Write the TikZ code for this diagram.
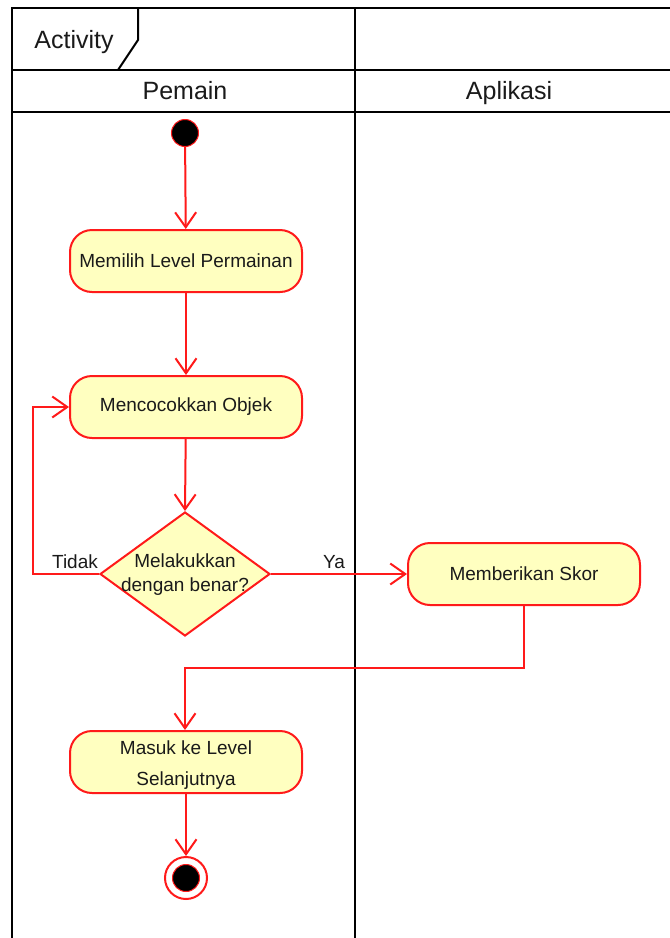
\documentclass[tikz,border=0pt]{standalone}
\usepackage{fontspec}
\setmainfont{Liberation Sans}
\usetikzlibrary{arrows.meta,shapes.geometric}
\definecolor{uired}{HTML}{FF1A1A}
\definecolor{uifill}{HTML}{FFFFC0}
\definecolor{uitext}{HTML}{1A1A1A}
\begin{document}
\begin{tikzpicture}[x=1pt,y=-1pt,
  frame/.style={line width=2pt,black},
  act/.style={draw=uired,fill=uifill,line width=2pt,rounded corners=22pt,minimum width=232pt,minimum height=62pt,text=uitext,font=\fontsize{19}{31}\selectfont,align=center,inner sep=0pt},
  dec/.style={draw=uired,fill=uifill,line width=2pt,diamond,minimum width=170pt,minimum height=124pt,aspect=1.37,inner sep=0pt},
  dectext/.style={text=uitext,font=\fontsize{19}{24}\selectfont,align=center,inner sep=0pt},
  flow/.style={draw=uired,line width=2pt,-{Straight Barb[length=15pt,width=21pt,line width=2pt]}},
  lbl/.style={text=uitext,font=\fontsize{19}{20}\selectfont,inner sep=0pt,anchor=base},
  hdr/.style={text=uitext,font=\fontsize{25}{28}\selectfont,inner sep=0pt,anchor=base}]
\useasboundingbox (0,0) rectangle (670,938);
\fill[white] (0,0) rectangle (670,938);
% frame
\draw[frame] (12,938) -- (12,8) -- (672,8);
\draw[frame] (12,70) -- (672,70);
\draw[frame] (12,112) -- (672,112);
\draw[frame] (355,8) -- (355,938);
\draw[frame] (138,8) -- (138,40) -- (118,70);
\node[hdr] (title) at (74,48) {Activity};
\node[hdr] (pemain) at (185,99) {Pemain};
\node[hdr] (aplikasi) at (509,99) {Aplikasi};
% nodes
\node[circle,fill=black,draw=uired,line width=1pt,minimum size=27pt,inner sep=0pt] (start) at (185,133) {};
\node[act] (memilih) at (186,261) {Memilih Level Permainan};
\node[act] (cocok) at (186,407) {Mencocokkan Objek};
\node[dec] (benar) at (185,574) {};
\node[dectext] (benartxt) at (185,575) {Melakukkan\\dengan benar?};
\node[act] (skor) at (524,574) {Memberikan Skor};
\node[act] (masuk) at (186,762) {};
\node[dectext,font=\fontsize{19}{31}\selectfont] (masuktxt) at (186,765) {Masuk ke Level\\Selanjutnya};
\node[circle,draw=uired,fill=white,line width=2pt,minimum size=42pt,inner sep=0pt] (end) at (186,878) {};
\node[circle,fill=black,draw=uired,line width=1pt,minimum size=27pt,inner sep=0pt] (endin) at (186,878) {};
% flows
\draw[flow] (start) -- (memilih);
\draw[flow] (memilih) -- (cocok);
\draw[flow] (cocok) -- (benar.north);
\coordinate (lp1) at (33,574);
\coordinate (lp2) at (33,407);
\draw[flow] (benar.west) -- (lp1) -- (lp2) -- (cocok.west);
\draw[flow] (benar.east) -- (skor.west);
\coordinate (sk1) at (524,668);
\coordinate (sk2) at (185,668);
\draw[flow] (skor.south) -- (sk1) -- (sk2) -- (masuk.north -| sk2);
\draw[flow] (masuk) -- (end);
\node[lbl] (tidak) at (75,568) {Tidak};
\node[lbl] (ya) at (334,568) {Ya};
\end{tikzpicture}
\end{document}
